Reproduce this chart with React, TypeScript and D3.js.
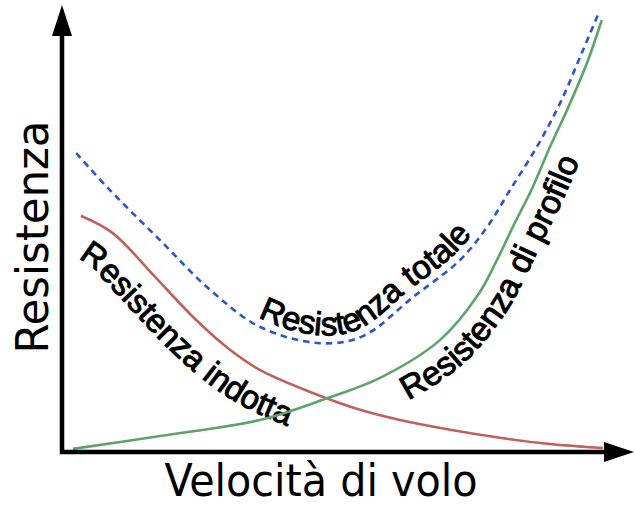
import React, { useEffect, useRef } from 'react';
import * as d3 from 'd3';

// speed (0-100) vs drag (0-100), arbitrary units
const inducedX = [3.3, 8.9, 16.0, 23.0, 28.9, 34.7, 44.0, 52.3, 59.3, 68.1, 76.8, 85.6, 94.9];
const inducedY = [53.2, 49.3, 39.9, 30.4, 23.6, 18.5, 13.3, 9.5, 7.2, 5.0, 3.2, 1.8, 0.9];

const profileX = [1.9, 17.2, 34.7, 46.7, 55.8, 66.3, 73.0, 76.3, 79.1, 82.6, 85.6, 88.6, 92.1, 94.7];
const profileY = [0.7, 3.6, 7.2, 12.2, 16.7, 25.2, 35.4, 43.2, 50.7, 59.7, 68.7, 77.0, 87.6, 97.3];

const totalX = [2.5, 8.4, 17.2, 26.0, 34.7, 45.3, 52.8, 61.6, 69.8, 74.6, 78.6, 83.3, 87.4, 91.2, 94.0];
const totalY = [67.3, 59.0, 47.7, 36.5, 28.2, 24.5, 26.1, 34.9, 43.2, 50.7, 59.0, 68.7, 78.6, 89.9, 98.4];

const xLabel = 'Velocità di volo';
const yLabel = 'Resistenza';
const seriesNames = ['Resistenza totale', 'Resistenza indotta', 'Resistenza di profilo'];

const width = 635;
const height = 505;

const App: React.FC = () => {
  const svgRef = useRef<SVGSVGElement>(null);

  useEffect(() => {
    if (!svgRef.current) return;
    const svg = d3.select(svgRef.current);
    svg.selectAll('*').remove();

    const x = d3.scaleLinear().domain([0, 100]).range([62, 632]);
    const y = d3.scaleLinear().domain([0, 100]).range([452, 8]);

    const line = d3.line<[number, number]>()
      .x(d => x(d[0]))
      .y(d => y(d[1]))
      .curve(d3.curveCatmullRom.alpha(0.5));

    const zip = (xs: number[], ys: number[]) => xs.map((v, i) => [v, ys[i]] as [number, number]);

    // label: startX is the point on the curve where the text begins, offset is the normal distance of the baseline
    const series = [
      { name: seriesNames[1], data: zip(inducedX, inducedY), color: '#bf625c', dash: null, offset: -40, startX: 96, size: 33 },
      { name: seriesNames[2], data: zip(profileX, profileY), color: '#5ea36c', dash: null, offset: -33, startX: 392, size: 33.5 },
      { name: seriesNames[0], data: zip(totalX, totalY), color: '#2f54c4', dash: '6.5,5', offset: 8, startX: 254, size: 33 },
    ];

    const defs = svg.append('defs');
    const g = svg.append('g');

    series.forEach((s, i) => {
      const path = g.append('path')
        .attr('d', line(s.data) as string)
        .attr('fill', 'none')
        .attr('stroke', s.color)
        .attr('stroke-width', 2.6)
        .attr('stroke-dasharray', s.dash);

      // offset path for the label, following the curve
      const node = path.node() as SVGPathElement;
      const total = node.getTotalLength();
      let start = 0;
      while (start < total && node.getPointAtLength(start).x < s.startX) start += 1;
      const end = Math.min(total, start + 420);
      const pts: [number, number][] = [];
      const n = 100;
      for (let k = 0; k <= n; k++) {
        const l = start + (end - start) * k / n;
        const p = node.getPointAtLength(l);
        const a = node.getPointAtLength(Math.max(0, l - 3));
        const b = node.getPointAtLength(Math.min(total, l + 3));
        const dx = b.x - a.x;
        const dy = b.y - a.y;
        const len = Math.hypot(dx, dy) || 1;
        pts.push([p.x + (dy / len) * s.offset, p.y + (-dx / len) * s.offset]);
      }
      const id = `label-path-${i}`;
      defs.append('path')
        .attr('id', id)
        .attr('d', d3.line().curve(d3.curveBasis)(pts) as string);

      g.append('text')
        .style('font-family', '"Liberation Sans", Arial, sans-serif')
        .style('font-size', `${s.size}px`)
        .attr('fill', '#000')
        .attr('stroke', '#000')
        .attr('stroke-width', 1)
        .append('textPath')
        .attr('href', `#${id}`)
        .attr('startOffset', 0)
        .text(s.name);
    });

    // axes with arrow heads
    const axis = svg.append('g');
    axis.append('line')
      .attr('x1', 62).attr('y1', 454).attr('x2', 62).attr('y2', 30)
      .attr('stroke', '#000').attr('stroke-width', 4.5);
    axis.append('line')
      .attr('x1', 60).attr('y1', 452).attr('x2', 610).attr('y2', 452)
      .attr('stroke', '#000').attr('stroke-width', 4.5);
    axis.append('path')
      .attr('d', 'M62,5 L72,36 L52,36 Z')
      .attr('fill', '#000');
    axis.append('path')
      .attr('d', 'M634,452 L604,442 L604,462 Z')
      .attr('fill', '#000');

    svg.append('text')
      .attr('x', 321)
      .attr('y', 496)
      .attr('text-anchor', 'middle')
      .attr('textLength', 313)
      .attr('lengthAdjust', 'spacingAndGlyphs')
      .style('font-family', '"DejaVu Sans Condensed", "DejaVu Sans", sans-serif')
      .style('font-size', '44px')
      .text(xLabel);

    svg.append('text')
      .attr('transform', 'translate(48,237) rotate(-90)')
      .attr('text-anchor', 'middle')
      .attr('textLength', 233)
      .attr('lengthAdjust', 'spacingAndGlyphs')
      .style('font-family', '"DejaVu Sans Condensed", "DejaVu Sans", sans-serif')
      .style('font-size', '44px')
      .text(yLabel);
  }, []);

  return <svg ref={svgRef} width={width} height={height} style={{ position: 'absolute', left: 0, top: 0 }} />;
};

export default App;
